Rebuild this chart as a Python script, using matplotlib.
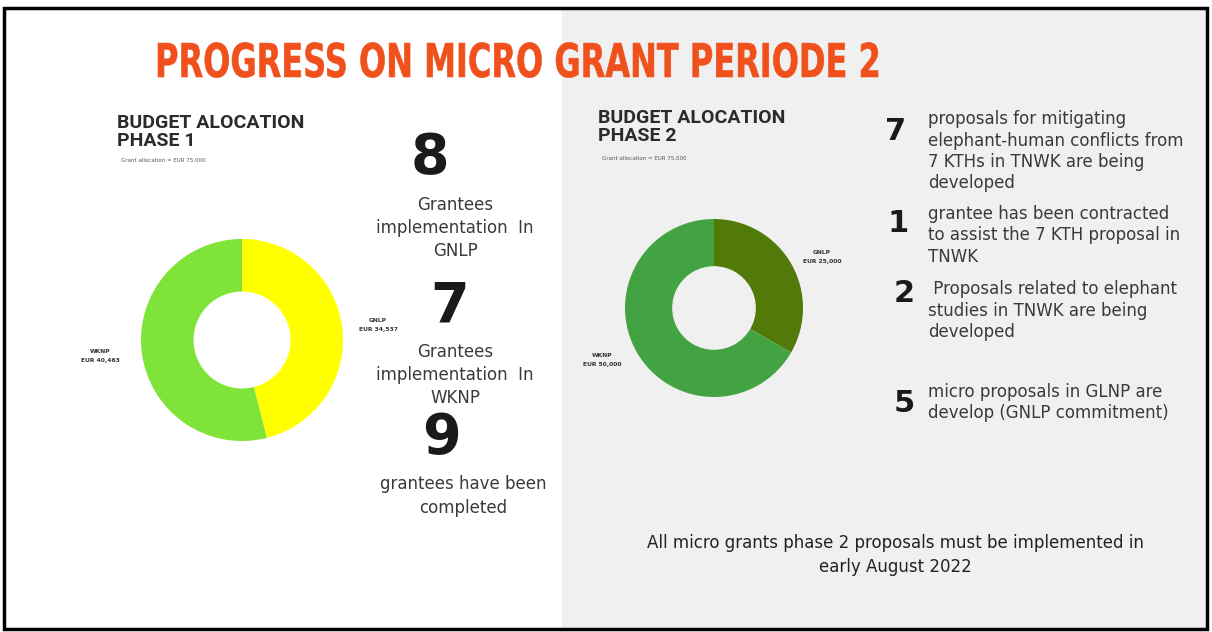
import matplotlib
matplotlib.use('Agg')
import matplotlib.pyplot as plt
from matplotlib.patches import Rectangle, PathPatch
from matplotlib.textpath import TextPath
from matplotlib.font_manager import FontProperties
from matplotlib.transforms import Affine2D

W, H = 1212, 632

# Budget split per phase (EUR)
PHASE1_LABELS = ['GNLP', 'WKNP']
PHASE1_VALUES = [34537, 40463]
PHASE1_COLORS = ['#ffff00', '#7fe33a']

PHASE2_LABELS = ['GNLP', 'WKNP']
PHASE2_VALUES = [25000, 50000]
PHASE2_COLORS = ['#527a08', '#43a343']

GRANTEE_COUNTS = [8, 7, 9]
GRANTEE_TEXT = ['Grantees\nimplementation  In\nGNLP',
                'Grantees\nimplementation  In\nWKNP',
                'grantees have been\ncompleted']

PROGRESS_COUNTS = [7, 1, 2, 5]
PROGRESS_TEXT = ['proposals for mitigating\nelephant-human conflicts from\n7 KTHs in TNWK are being\ndeveloped',
                 'grantee has been contracted\nto assist the 7 KTH proposal in\nTNWK',
                 ' Proposals related to elephant\nstudies in TNWK are being\ndeveloped',
                 'micro proposals in GLNP are\ndevelop (GNLP commitment)']

TITLE = 'PROGRESS ON MICRO GRANT PERIODE 2'
BODY_FONT = ['DejaVu Sans']
TEXT_COL = '#3a3a3a'


def donut(fig, cx, cy, r, values, colors, hole):
    ax = fig.add_axes([(cx - r) / W, 1 - (cy + r) / H, 2 * r / W, 2 * r / H])
    ax.pie(values, colors=colors, startangle=90, counterclock=False,
           wedgeprops=dict(width=1 - hole, linewidth=0))
    ax.set_xlim(-1, 1)
    ax.set_ylim(-1, 1)
    ax.set_aspect('auto')
    ax.axis('off')
    return ax


def squeezed_text(ax, x0, x1, y_base, cap_px, s, color):
    # condensed headline: draw the glyph outlines and squeeze them to fit x0..x1
    prop = FontProperties(family='DejaVu Sans', weight='bold')
    path = TextPath((0, 0), s, size=cap_px / 0.73, prop=prop)
    ext = path.get_extents()
    sx = (x1 - x0) / ext.width
    tr = Affine2D().translate(-ext.x0, 0).scale(sx, -1).translate(x0, y_base) + ax.transData
    ax.add_patch(PathPatch(path, transform=tr, facecolor=color, edgecolor=color,
                           linewidth=0.4, zorder=3))


def eur(v):
    return f'EUR {v:,}'


fig = plt.figure(figsize=(W / 100, H / 100), dpi=100)
bg = fig.add_axes([0, 0, 1, 1])
bg.set_xlim(0, W)
bg.set_ylim(H, 0)
bg.axis('off')

# panels and frame
bg.add_patch(Rectangle((0, 0), W, H, color='white', zorder=0))
bg.add_patch(Rectangle((562, 8), 645, 622, color='#f0f0f0', zorder=1))
bg.add_patch(Rectangle((4, 8), 1203, 621, fill=False, edgecolor='black', linewidth=2.5, zorder=5))

squeezed_text(bg, 158, 878, 77, 34, TITLE, '#f0501c')

# phase headers
for x, y, sub_y, phase in [(117, 132, 161, 1), (598, 127, 158, 2)]:
    bg.text(x, y, f'BUDGET ALOCATION\nPHASE {phase}', fontsize=14, fontweight='bold',
            color='#2b2b2b', family=['Roboto', 'DejaVu Sans'], va='center', ha='left',
            linespacing=0.95, zorder=3)
    bg.text(x + 4, sub_y, 'Grant allocation = EUR 75.000', fontsize=4, color='#555555',
            family=BODY_FONT, va='center', ha='left', zorder=3)

# donuts
donut(fig, 242, 340, 101, PHASE1_VALUES, PHASE1_COLORS, 0.48)
donut(fig, 714, 308, 89, PHASE2_VALUES, PHASE2_COLORS, 0.47)

label_kw = dict(fontsize=4.3, color='#333333', family=BODY_FONT, ha='center', va='center',
                linespacing=1.8, fontweight='bold', zorder=3)
bg.text(100, 356, f'{PHASE1_LABELS[1]}\n{eur(PHASE1_VALUES[1])}', **label_kw)
bg.text(378, 325, f'{PHASE1_LABELS[0]}\n{eur(PHASE1_VALUES[0])}', **label_kw)
bg.text(822, 257, f'{PHASE2_LABELS[0]}\n{eur(PHASE2_VALUES[0])}', **label_kw)
bg.text(602, 360, f'{PHASE2_LABELS[1]}\n{eur(PHASE2_VALUES[1])}', **label_kw)

# grantee counts, phase 1
num_pos = [(430, 158), (450, 307), (441, 438)]
txt_pos = [(455, 228), (455, 375), (463, 496)]
for n, t, (nx, ny), (tx, ty) in zip(GRANTEE_COUNTS, GRANTEE_TEXT, num_pos, txt_pos):
    bg.text(nx, ny, str(n), fontsize=40, fontweight='bold', color='#1a1a1a',
            family=BODY_FONT, ha='center', va='center', zorder=3)
    bg.text(tx, ty, t, fontsize=12, color=TEXT_COL, family=BODY_FONT,
            ha='center', va='center', linespacing=1.36, zorder=3)

# progress items, phase 2
num_pos = [(896, 132), (898, 223), (904, 294), (904, 404)]
txt_y = [118, 213, 288, 391]
for n, t, (nx, ny), ty in zip(PROGRESS_COUNTS, PROGRESS_TEXT, num_pos, txt_y):
    bg.text(nx, ny, str(n), fontsize=22, fontweight='bold', color='#1a1a1a',
            family=BODY_FONT, ha='center', va='center', zorder=3)
    bg.text(928, ty - 8, t, fontsize=12, color=TEXT_COL, family=BODY_FONT,
            ha='left', va='top', linespacing=1.25, zorder=3)

bg.text(895, 555, 'All micro grants phase 2 proposals must be implemented in\nearly August 2022',
        fontsize=12, color='#222222', family=BODY_FONT, ha='center', va='center',
        linespacing=1.4, zorder=3)

plt.savefig('out.png', dpi=100)
